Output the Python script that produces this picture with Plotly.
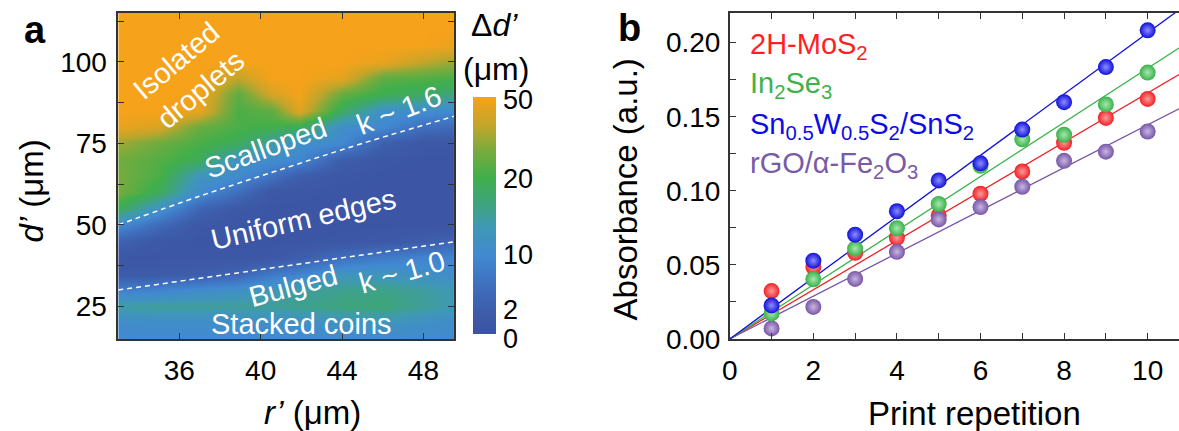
import plotly.graph_objects as go

W, H = 1179, 431
FONT = "Liberation Sans, Arial, Helvetica, sans-serif"

# ---------------- Panel a data ----------------
r_vals = [33, 35, 37, 38.9, 40.5, 41.9, 44, 46, 48, 49.5]
d_vals = [15, 20, 25, 30, 35, 40, 45, 50, 55, 60, 65, 70, 75, 80, 85, 90, 95, 100, 105, 110, 115]

# colour-scale position (0..1, non-linear in delta d') read along each r' column, d' = 15..115
col_r33 = [0.33, 0.35, 0.48, 0.28, 0.08, 0.04, 0.14, 0.34, 0.62, 0.77, 0.77, 0.76, 0.83, 0.97, 1, 1, 1, 1, 1, 1, 1]
col_r35 = [0.33, 0.36, 0.50, 0.30, 0.08, 0.04, 0.05, 0.18, 0.38, 0.62, 0.68, 0.70, 0.75, 0.93, 1, 1, 1, 1, 1, 1, 1]
col_r37 = [0.33, 0.36, 0.50, 0.35, 0.10, 0.04, 0.03, 0.05, 0.15, 0.35, 0.42, 0.62, 0.68, 0.74, 0.97, 1, 1, 1, 1, 1, 1]
col_r389 = [0.33, 0.36, 0.50, 0.38, 0.15, 0.04, 0.03, 0.03, 0.05, 0.20, 0.35, 0.40, 0.62, 0.68, 0.68, 0.72, 0.88, 1, 1, 1, 1]
col_r405 = [0.33, 0.37, 0.50, 0.45, 0.25, 0.05, 0.03, 0.03, 0.03, 0.05, 0.22, 0.36, 0.48, 0.66, 0.72, 0.92, 1, 1, 1, 1, 1]
col_r419 = [0.34, 0.38, 0.52, 0.48, 0.30, 0.10, 0.03, 0.03, 0.03, 0.04, 0.10, 0.32, 0.38, 0.62, 0.95, 1, 1, 1, 1, 1, 1]
col_r44 = [0.34, 0.40, 0.55, 0.52, 0.42, 0.20, 0.04, 0.03, 0.03, 0.03, 0.04, 0.10, 0.33, 0.37, 0.60, 0.74, 0.96, 1, 1, 1, 1]
col_r46 = [0.34, 0.42, 0.56, 0.53, 0.42, 0.26, 0.06, 0.03, 0.03, 0.03, 0.03, 0.04, 0.12, 0.33, 0.38, 0.64, 0.72, 0.97, 1, 1, 1]
col_r48 = [0.33, 0.38, 0.50, 0.49, 0.38, 0.30, 0.10, 0.03, 0.03, 0.03, 0.03, 0.03, 0.05, 0.20, 0.36, 0.60, 0.70, 0.88, 1, 1, 1]
col_r495 = [0.33, 0.36, 0.45, 0.45, 0.36, 0.30, 0.15, 0.03, 0.03, 0.03, 0.03, 0.03, 0.05, 0.18, 0.34, 0.55, 0.68, 0.82, 0.97, 1, 1]
columns = [col_r33, col_r35, col_r37, col_r389, col_r405, col_r419, col_r44, col_r46, col_r48, col_r495]
z_grid = [[col[i] for col in columns] for i in range(len(d_vals))]

# colour-bar labels (delta d' in um) and their positions on the bar (0..1)
cbar_labels = ["0", "2", "10", "20", "50"]
cbar_label_pos = [-0.02, 0.10, 0.335, 0.655, 0.99]

k16_r = [33, 37, 41, 45, 49.5]
k16_d = [50, 58.8, 67, 75, 83.3]
k10_r = [33, 49.5]
k10_d = [30, 44.8]

# ---------------- Panel b data ----------------
reps = [1, 2, 3, 4, 5, 6, 7, 8, 9, 10]
mos2 = [0.0323, 0.0485, 0.0581, 0.0683, 0.0833, 0.0980, 0.1130, 0.1324, 0.1492, 0.1620]
in2se3 = [0.0172, 0.0403, 0.0610, 0.0747, 0.0911, 0.1169, 0.1348, 0.1378, 0.1583, 0.1798]
snws = [0.0226, 0.0528, 0.0704, 0.0862, 0.1070, 0.1185, 0.1413, 0.1598, 0.1835, 0.2083]
rgo = [0.0071, 0.0216, 0.0405, 0.0588, 0.0807, 0.0890, 0.1027, 0.1202, 0.1264, 0.1400]
slope_mos2, slope_in2se3, slope_snws, slope_rgo = 0.0166, 0.01827, 0.02066, 0.01445
fit_x = [0, 10.75]

colorscale = [
    [0.0, "#3b53a3"], [0.1, "#3d5dab"], [0.2, "#3f6ebd"], [0.33, "#4189d1"],
    [0.45, "#3f98b5"], [0.55, "#3ea47c"], [0.66, "#40af4b"], [0.78, "#7dab3c"],
    [0.88, "#c3a52b"], [1.0, "#f6a21a"],
]

def px(x, y):
    return x / W, (H - y) / H

CB_TOP, CB_BOT = 101, 347

fig = go.Figure()

fig.add_trace(go.Heatmap(
    x=r_vals, y=d_vals, z=z_grid, zmin=0, zmax=1, zsmooth="best",
    colorscale=colorscale, xaxis="x", yaxis="y",
    colorbar=dict(
        x=468 / W, xanchor="left", y=(H - (CB_TOP + CB_BOT) / 2) / H, yanchor="middle",
        len=(CB_BOT - CB_TOP) / H, lenmode="fraction", thickness=23, thicknessmode="pixels",
        outlinewidth=0, xpad=0, ypad=0, showticklabels=False, ticks="",
    ),
))

for rr, dd in [(k16_r, k16_d), (k10_r, k10_d)]:
    fig.add_trace(go.Scatter(x=rr, y=dd, mode="lines", xaxis="x", yaxis="y",
                             line=dict(color="white", width=1.5, dash="5px,4px"),
                             line_shape="spline", showlegend=False, hoverinfo="skip"))

series = [
    ("mos2", mos2, slope_mos2, "#ee2227", "#ff9a9a"),
    ("rgo", rgo, slope_rgo, "#7756a6", "#c9b6e2"),
    ("in2se3", in2se3, slope_in2se3, "#39b24a", "#a8e6ae"),
    ("snws", snws, slope_snws, "#1010d8", "#8d8dff"),
]
for name, vals, slope, col, light in series:
    fig.add_trace(go.Scatter(x=fit_x, y=[slope * v for v in fit_x], mode="lines",
                             xaxis="x2", yaxis="y2", line=dict(color=col, width=1.3),
                             showlegend=False, hoverinfo="skip"))
for name, vals, slope, col, light in series:
    fig.add_trace(go.Scatter(x=reps, y=vals, mode="markers", xaxis="x2", yaxis="y2",
                             marker=dict(size=16, color=col, line=dict(width=0),
                                         gradient=dict(type="radial", color=light)),
                             showlegend=False, name=name))

TICKSIZE = 28
axis_common = dict(showgrid=False, zeroline=False, showline=True, linecolor="#333",
                   linewidth=1.5, ticks="inside", ticklen=6, tickwidth=1.3, tickcolor="#333",
                   tickfont=dict(family=FONT, size=TICKSIZE, color="black"))

ydom = [(H - 352) / H, (H - 13.5) / H]
fig.update_layout(
    width=W, height=H, margin=dict(l=0, r=0, t=0, b=0),
    paper_bgcolor="white", plot_bgcolor="white", showlegend=False,
    xaxis=dict(domain=[111 / W, 449 / W], range=[33, 49.5], tickvals=[36, 40, 44, 48],
               mirror="ticks", anchor="y", ticklabelstandoff=6, **axis_common),
    yaxis=dict(domain=ydom, range=[15, 115],
               tickvals=[25, 37.5, 50, 62.5, 75, 87.5, 100, 112.5],
               ticktext=["25", "", "50", "", "75", "", "100", ""],
               mirror="ticks", anchor="x", ticklabelstandoff=4, **axis_common),
    xaxis2=dict(domain=[726.7 / W, 1.0], range=[0, 10.75], tickvals=list(range(0, 11)),
                ticktext=[str(i) if i % 2 == 0 else "" for i in range(0, 11)],
                mirror="ticks", anchor="y2", ticklabelstandoff=6, **axis_common),
    yaxis2=dict(domain=ydom, range=[0, 0.22],
                tickvals=[i * 0.025 for i in range(0, 9)],
                ticktext=["0.00", "", "0.05", "", "0.10", "", "0.15", "", "0.20"],
                mirror=False, anchor="x2", ticklabelstandoff=2, **axis_common),
)

ann = []
def add_text(x, y, text, size=26, color="black", angle=0, xanchor="center", bold=False,
             yanchor="middle"):
    ax, ay = px(x, y)
    if bold:
        text = "<b>" + text + "</b>"
    ann.append(dict(x=ax, y=ay, xref="paper", yref="paper", text=text, showarrow=False,
                    textangle=angle, xanchor=xanchor, yanchor=yanchor,
                    font=dict(family=FONT, size=size, color=color)))

# colour-bar labels
for lab, pos in zip(cbar_labels, cbar_label_pos):
    ann.append(dict(x=496 / W, xref="paper", xanchor="left",
                    y=((H - CB_BOT) + pos * (CB_BOT - CB_TOP)) / H, yref="paper",
                    yanchor="middle", text=lab, showarrow=False,
                    font=dict(family=FONT, size=27, color="black")))

# panel labels
add_text(27, 31, "a", size=38, bold=True)
add_text(626, 29, "b", size=38, bold=True)
# axis titles
add_text(24, 198, "<i>d’</i> (μm)", size=33, angle=-90)
add_text(307, 428, "<i>r’</i> (μm)", size=33)
add_text(622, 197, "Absorbance (a.u.)", size=33, angle=-90)
add_text(973, 429, "Print repetition", size=33)
# colorbar title
add_text(490, 26, "Δ<i>d’</i>", size=32)
add_text(491, 72, "(μm)", size=32)
# region labels
RS = 29
add_text(182, 78, "Isolated<br>droplets", size=RS, color="white", angle=-40)
add_text(259, 154, "Scalloped", size=RS, color="white", angle=-20)
add_text(394, 114, "k ~ 1.6", size=RS, color="white", angle=-21)
add_text(298, 227, "Uniform edges", size=RS, color="white", angle=-13)
add_text(287, 297, "Bulged", size=RS, color="white", angle=-15)
add_text(397, 282, "k ~ 1.0", size=RS, color="white", angle=-16)
add_text(296, 337, "Stacked coins", size=RS, color="white", angle=0)
# legend texts
LS = 29
add_text(745, 48, "2H-MoS<sub>2</sub>", size=LS, color="#ff1f25", xanchor="left")
add_text(745, 88, "In<sub>2</sub>Se<sub>3</sub>", size=LS, color="#3fb34a", xanchor="left")
add_text(745, 131, "Sn<sub>0.5</sub>W<sub>0.5</sub>S<sub>2</sub>/SnS<sub>2</sub>", size=LS,
         color="#0c0ce6", xanchor="left")
add_text(745, 171, "rGO/α-Fe<sub>2</sub>O<sub>3</sub>", size=LS, color="#7a5aa8", xanchor="left")

fig.update_layout(annotations=ann)
fig.write_html("out.html")
